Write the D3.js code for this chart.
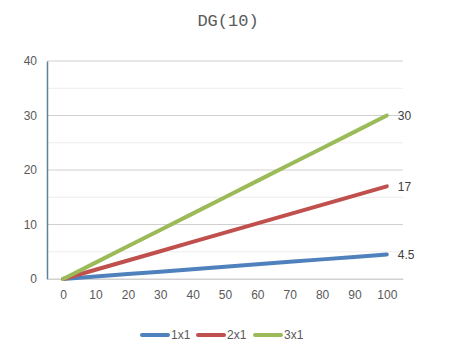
<!DOCTYPE html>
<html>
<head>
<meta charset="utf-8">
<script src="https://cdn.jsdelivr.net/npm/d3@7"></script>
<style>
  body { margin: 0; background: #fff; }
  text { font-family: "Liberation Sans", Arial, sans-serif; }
</style>
</head>
<body>
<div id="chart"></div>
<script>
// chart data
let xCats = [0, 10, 20, 30, 40, 50, 60, 70, 80, 90, 100];
let s1x1 = [0, 0.45, 0.9, 1.35, 1.8, 2.25, 2.7, 3.15, 3.6, 4.05, 4.5];
let s2x1 = [0, 1.7, 3.4, 5.1, 6.8, 8.5, 10.2, 11.9, 13.6, 15.3, 17];
let s3x1 = [0, 3, 6, 9, 12, 15, 18, 21, 24, 27, 30];
let seriesNames = ["1x1", "2x1", "3x1"];
let yTicks = [0, 10, 20, 30, 40];
let yMinor = [5, 15, 25, 35];
let endLabels = ["4.5", "17", "30"];

let colors = ["#4F81BD", "#C0504D", "#9BBB59"];
let seriesData = [s1x1, s2x1, s3x1];

let margin = {top: 61, left: 47, right: 53, bottom: 73};
let svgWidth = 456, svgHeight = 352;
let w = svgWidth - margin.left - margin.right;
let h = svgHeight - margin.top - margin.bottom;

let svg = d3.select("#chart").append("svg")
    .attr("width", svgWidth)
    .attr("height", svgHeight);

// title
svg.append("text")
    .attr("x", 228)
    .attr("y", 26)
    .attr("text-anchor", "middle")
    .style("font-family", "'Liberation Mono', monospace")
    .style("font-size", "17px")
    .style("fill", "#595959")
    .text("DG(10)");

let g = svg.append("g")
    .attr("transform", "translate(" + margin.left + "," + margin.top + ")");

let xScale = d3.scalePoint().domain(xCats).range([0, w]).padding(0.5);
let yScale = d3.scaleLinear().domain([0, 40]).range([h, 0]);

// minor gridlines
g.selectAll(".minorGrid").data(yMinor).enter().append("line")
    .attr("x1", 0).attr("x2", w)
    .attr("y1", d => yScale(d)).attr("y2", d => yScale(d))
    .style("stroke", "#ececec").style("stroke-width", 1);

// major gridlines
g.selectAll(".majorGrid").data(yTicks).enter().append("line")
    .attr("x1", 0).attr("x2", w)
    .attr("y1", d => yScale(d)).attr("y2", d => yScale(d))
    .style("stroke", "#d0d0d0").style("stroke-width", 1);

// y axis
let yAxis = d3.axisLeft(yScale).tickValues(yTicks).tickSize(0).tickPadding(10);
let yAx = g.append("g").call(yAxis);
yAx.select(".domain").style("stroke", "#5b8196").style("stroke-width", 1.5);
yAx.selectAll("text").style("font-size", "12px").style("fill", "#595959");

// x axis
let xAxis = d3.axisBottom(xScale).tickSize(0).tickPadding(11);
let xAx = g.append("g").attr("transform", "translate(0," + h + ")").call(xAxis);
xAx.select(".domain").style("stroke", "#d0d0d0");
xAx.selectAll("text").style("font-size", "12px").style("fill", "#595959");

// lines
let line = d3.line()
    .x((d, i) => xScale(xCats[i]))
    .y(d => yScale(d));

seriesData.forEach((s, k) => {
    g.append("path")
        .attr("d", line(s))
        .style("fill", "none")
        .style("stroke", colors[k])
        .style("stroke-width", 4)
        .style("stroke-linecap", "round");

    g.append("text")
        .attr("x", xScale(xCats[xCats.length - 1]) + 11)
        .attr("y", yScale(s[s.length - 1]))
        .attr("dy", "0.35em")
        .style("font-size", "12px")
        .style("fill", "#404040")
        .text(endLabels[k]);
});

// legend
let legendX = [142, 198, 255];
let legend = svg.selectAll(".legend").data(seriesNames).enter().append("g")
    .attr("transform", (d, i) => "translate(" + legendX[i] + "," + 335 + ")");
legend.append("line")
    .attr("x1", 0).attr("x2", 26)
    .style("stroke", (d, i) => colors[i])
    .style("stroke-width", 4)
    .style("stroke-linecap", "round");
legend.append("text")
    .attr("x", 29)
    .attr("dy", "0.35em")
    .style("font-size", "12px")
    .style("fill", "#595959")
    .text(d => d);
</script>
</body>
</html>
